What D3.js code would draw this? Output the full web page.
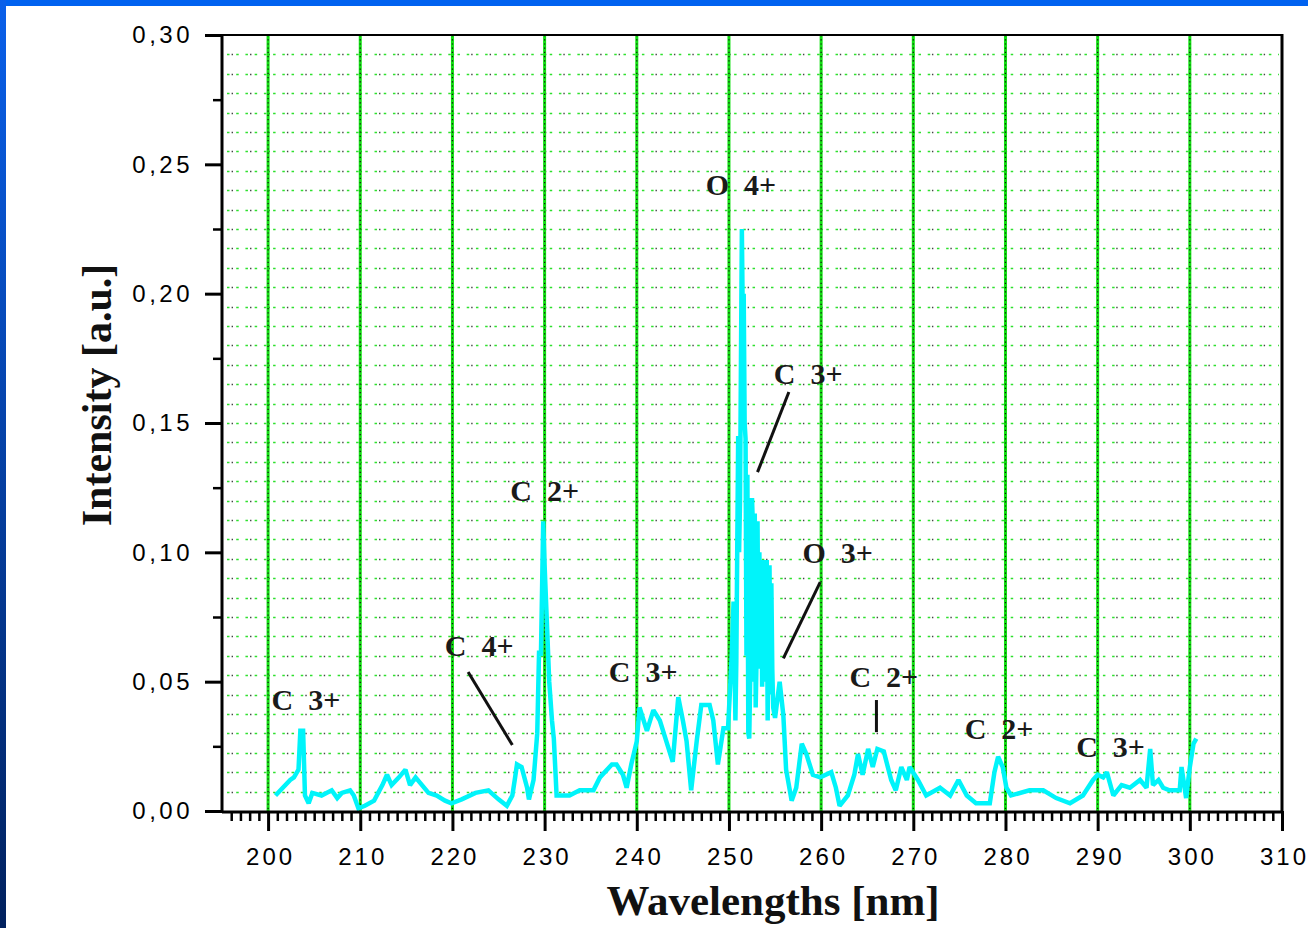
<!DOCTYPE html>
<html>
<head>
<meta charset="utf-8">
<script src="https://cdn.jsdelivr.net/npm/d3@7"></script>
<style>
  html, body { margin: 0; padding: 0; background: #ffffff; }
  svg { display: block; }
</style>
</head>
<body>
<svg id="chart" width="1308" height="928"></svg>
<script>
// ---- data ----
const wavelengths = [
  200.8, 202.4, 202.8, 203.3, 203.5, 203.8, 204.0, 204.4, 204.8, 205.8,
  206.9, 207.5, 208.0, 208.9, 209.3, 209.8, 210.5, 211.5, 212.4, 212.9,
  213.4, 214.2, 214.9, 215.4, 216.0, 216.7, 217.4, 218.3, 219.2, 219.9,
  221.0, 222.5, 223.9, 225.0, 225.9, 226.5, 226.8, 227.0, 227.5, 228.1,
  228.3, 228.8, 229.2, 229.4, 229.6, 229.85, 230.0, 230.2, 230.5, 230.8,
  231.0, 231.3, 232.7, 233.8, 235.3, 236.0, 237.3, 237.8, 238.5, 238.9,
  239.4, 240.0, 240.3, 241.1, 241.8, 242.5, 243.2, 243.9, 244.5, 245.0,
  245.4, 245.9, 246.5, 247.0, 247.9, 248.3, 248.8, 249.4, 249.9,
  250.3, 250.5, 250.7, 250.8, 251.0, 251.1, 251.2, 251.4, 251.5, 251.6,
  251.7, 251.8, 251.9, 252.0, 252.1, 252.2, 252.3, 252.4, 252.5, 252.6,
  252.7, 252.8, 252.9, 253.0, 253.1, 253.2, 253.3, 253.4, 253.5, 253.6,
  253.7, 253.8, 253.9, 254.0, 254.1, 254.2, 254.3, 254.4, 254.5, 254.6,
  254.7, 254.8, 255.0,
  255.5, 255.9, 256.2, 256.8, 257.3, 257.9, 258.4,
  259.1, 259.9, 261.1, 261.6, 262.0, 262.9, 263.6, 264.0, 264.5, 265.1,
  265.6, 266.1, 266.8, 267.6, 268.1, 268.7, 269.3, 269.6, 270.5, 271.4,
  272.9, 274.0, 274.9, 275.8, 276.8, 278.3, 278.8, 279.2, 279.7, 280.1,
  280.6, 282.6, 284.1, 285.5, 287.0, 288.4, 289.5, 290.0, 290.6, 291.0,
  291.7, 292.6, 293.5, 294.6, 295.3, 295.7, 296.0, 296.6, 297.1, 297.8,
  298.9, 299.1, 299.6, 300.0, 300.4, 300.7
];
const intensities = [
  0.006, 0.012, 0.013, 0.016, 0.031, 0.031, 0.006, 0.003, 0.007, 0.006,
  0.008, 0.005, 0.007, 0.008, 0.006, 0.001, 0.002, 0.004, 0.010, 0.014,
  0.010, 0.013, 0.016, 0.010, 0.013, 0.010, 0.007, 0.006, 0.004, 0.003,
  0.0045, 0.007, 0.008, 0.0045, 0.002, 0.006, 0.013, 0.018, 0.017, 0.009,
  0.0045, 0.012, 0.030, 0.062, 0.060, 0.112, 0.095, 0.077, 0.050, 0.035,
  0.028, 0.006, 0.006, 0.008, 0.008, 0.013, 0.018, 0.018, 0.014, 0.009,
  0.018, 0.027, 0.040, 0.031, 0.039, 0.035, 0.027, 0.019, 0.044, 0.035,
  0.027, 0.008, 0.027, 0.041, 0.041, 0.035, 0.018, 0.032, 0.032,
  0.060, 0.081, 0.035, 0.058, 0.145, 0.100, 0.120, 0.225, 0.190, 0.200,
  0.150, 0.144, 0.060, 0.130, 0.030, 0.028, 0.050, 0.070, 0.121, 0.110,
  0.050, 0.115, 0.040, 0.060, 0.112, 0.055, 0.100, 0.062, 0.096, 0.048,
  0.097, 0.050, 0.095, 0.060, 0.097, 0.035, 0.090, 0.095, 0.045, 0.088,
  0.055, 0.040, 0.036,
  0.050, 0.037, 0.016, 0.004, 0.009, 0.026, 0.022,
  0.014, 0.013, 0.015, 0.009, 0.002, 0.006, 0.014, 0.022, 0.014, 0.024,
  0.017, 0.024, 0.023, 0.012, 0.008, 0.017, 0.012, 0.017, 0.012, 0.006,
  0.009, 0.006, 0.012, 0.006, 0.003, 0.003, 0.015, 0.021, 0.017, 0.009,
  0.006, 0.008, 0.008, 0.005, 0.003, 0.006, 0.012, 0.014, 0.013, 0.015,
  0.006, 0.010, 0.009, 0.012, 0.009, 0.024, 0.010, 0.012, 0.009, 0.008,
  0.008, 0.017, 0.005, 0.017, 0.026, 0.028
];
const xTickValues = [200, 210, 220, 230, 240, 250, 260, 270, 280, 290, 300, 310];
const yTickValues = [0, 0.05, 0.10, 0.15, 0.20, 0.25, 0.30];
const yTickLabels = ["0,00", "0,05", "0,10", "0,15", "0,20", "0,25", "0,30"];
const labelTexts = ["C 3+", "C 4+", "C 2+", "C 3+", "O 4+", "C 3+", "O 3+", "C 2+", "C 2+", "C 3+"];
const labelWl    = [204.1, 222.9, 230.0, 240.7, 251.3, 258.6, 261.8, 266.8, 279.3, 291.4];
const labelInt   = [0.039, 0.060, 0.120, 0.050, 0.238, 0.165, 0.096, 0.048, 0.028, 0.021];
const pointerWl1  = [221.7, 256.5, 259.9, 266.0];
const pointerInt1 = [0.0537, 0.162, 0.0885, 0.0429];
const pointerWl2  = [226.5, 253.1, 255.9, 266.0];
const pointerInt2 = [0.0255, 0.131, 0.059, 0.0305];
const xTitle = "Wavelengths [nm]";
const yTitle = "Intensity [a.u.]";

(function () {
const svg = d3.select("#chart");
const W = 1308, H = 928;
const pLeft = 222, pRight = 1282, pTop = 35, pBottom = 811;

const x = d3.scaleLinear().domain([195, 310]).range([pLeft, pRight]);
const y = d3.scaleLinear().domain([0, 0.30]).range([pBottom, pTop]);

// page frame (blue border top & left)
const defs = svg.append("defs");
const grad = defs.append("linearGradient").attr("id", "leftGrad")
  .attr("x1", 0).attr("y1", 0).attr("x2", 0).attr("y2", 1);
grad.append("stop").attr("offset", "0%").attr("stop-color", "#0a60ea");
grad.append("stop").attr("offset", "100%").attr("stop-color", "#01215e");
svg.append("rect").attr("x", 0).attr("y", 0).attr("width", W).attr("height", H).attr("fill", "#ffffff");
svg.append("rect").attr("x", 0).attr("y", 0).attr("width", W).attr("height", 6).attr("fill", "#0062f0");
svg.append("rect").attr("x", 0).attr("y", 0).attr("width", 6).attr("height", H).attr("fill", "url(#leftGrad)");

// ---- dotted horizontal grid ----
const per = x(196) - x(195);
const gridRows = d3.range(0.0075, 0.30, 0.0075);
const gGrid = svg.append("g");
gGrid.selectAll("line.hg").data(gridRows).join("line").attr("class", "hg")
  .attr("x1", pLeft + 3).attr("x2", pRight - 3)
  .attr("y1", d => Math.round(y(d)) + 0.5).attr("y2", d => Math.round(y(d)) + 0.5)
  .attr("stroke", "#2ee02e").attr("stroke-width", 1.4)
  .attr("stroke-dasharray", `2.5,${(per - 2.5).toFixed(2)}`)
  .attr("stroke-dashoffset", -2);
gGrid.selectAll("line.hk").data(gridRows).join("line").attr("class", "hk")
  .attr("x1", pLeft + 3).attr("x2", pRight - 3)
  .attr("y1", d => Math.round(y(d)) + 0.5).attr("y2", d => Math.round(y(d)) + 0.5)
  .attr("stroke", "#444").attr("stroke-width", 1.4)
  .attr("stroke-dasharray", `1.4,${(2 * per - 1.4).toFixed(2)}`)
  .attr("stroke-dashoffset", -2 - per / 2);

// major vertical grid lines
const vMajor = xTickValues.filter(v => v > 195 && v < 310);
gGrid.selectAll("line.vg").data(vMajor).join("line").attr("class", "vg")
  .attr("x1", d => x(d)).attr("x2", d => x(d))
  .attr("y1", pTop).attr("y2", pBottom)
  .attr("stroke", "#11e011").attr("stroke-width", 3);
gGrid.selectAll("line.vk").data(vMajor).join("line").attr("class", "vk")
  .attr("x1", d => x(d)).attr("x2", d => x(d))
  .attr("y1", pTop).attr("y2", pBottom)
  .attr("stroke", "#111").attr("stroke-width", 1.2)
  .attr("stroke-dasharray", "1.2,3");

// ---- spectrum ----
const data = wavelengths.map((w, i) => ({ w, v: intensities[i] }));
const line = d3.line().x(d => x(d.w)).y(d => y(d.v));
svg.append("path").datum(data)
  .attr("d", line)
  .attr("fill", "none")
  .attr("stroke", "#00f4fa")
  .attr("stroke-width", 4.5)
  .attr("stroke-linejoin", "miter")
  .attr("stroke-miterlimit", 2);

// ---- axes ----
const fontTick = "'Liberation Sans', Arial, sans-serif";
const xAxis = d3.axisBottom(x).tickValues(xTickValues).tickSize(20).tickFormat(d3.format("d")).tickSizeOuter(0);
const gx = svg.append("g").attr("transform", `translate(0,${pBottom})`).call(xAxis);
gx.select(".domain").remove();
gx.selectAll(".tick line").attr("stroke", "#000").attr("stroke-width", 3);
gx.selectAll(".tick text").attr("y", 37).attr("dy", "0.71em")
  .attr("font-family", fontTick).attr("font-size", 24).attr("letter-spacing", "3px")
  .attr("fill", "#000").attr("dx", 2);

const xMinor = d3.range(196, 310, 1).filter(v => v % 10 !== 0);
const gxm = svg.append("g").attr("transform", `translate(0,${pBottom})`)
  .call(d3.axisBottom(x).tickValues(xMinor).tickSize(10).tickFormat(""));
gxm.select(".domain").remove();
gxm.selectAll(".tick line").attr("stroke", "#000").attr("stroke-width", 2.5);

const yAxis = d3.axisLeft(y).tickValues(yTickValues).tickSize(17)
  .tickFormat((d, i) => yTickLabels[i]).tickSizeOuter(0);
const gy = svg.append("g").attr("transform", `translate(${pLeft},0)`).call(yAxis);
gy.select(".domain").remove();
gy.selectAll(".tick line").attr("stroke", "#000").attr("stroke-width", 3);
gy.selectAll(".tick text").attr("x", -29)
  .attr("font-family", fontTick).attr("font-size", 24).attr("letter-spacing", "3.5px")
  .attr("fill", "#000");

const yMinor = d3.range(0.025, 0.30, 0.05);
const gym = svg.append("g").attr("transform", `translate(${pLeft},0)`)
  .call(d3.axisLeft(y).tickValues(yMinor).tickSize(9).tickFormat(""));
gym.select(".domain").remove();
gym.selectAll(".tick line").attr("stroke", "#000").attr("stroke-width", 2.5);

// frame
svg.append("line").attr("x1", pLeft).attr("x2", pRight).attr("y1", pTop).attr("y2", pTop)
  .attr("stroke", "#000").attr("stroke-width", 2);
svg.append("line").attr("x1", pRight).attr("x2", pRight).attr("y1", pTop - 1).attr("y2", pBottom + 1)
  .attr("stroke", "#000").attr("stroke-width", 3);
svg.append("line").attr("x1", pLeft).attr("x2", pLeft).attr("y1", pTop - 1).attr("y2", pBottom + 1)
  .attr("stroke", "#000").attr("stroke-width", 3);
svg.append("line").attr("x1", pLeft).attr("x2", pRight + 1).attr("y1", pBottom + 1).attr("y2", pBottom + 1)
  .attr("stroke", "#000").attr("stroke-width", 3);

// ---- annotations ----
const fontSerif = "'Liberation Serif', 'Times New Roman', serif";
const labels = labelTexts.map((t, i) => ({ t, w: labelWl[i], v: labelInt[i] }));
svg.append("g").selectAll("text").data(labels).join("text")
  .attr("x", d => x(d.w)).attr("y", d => y(d.v))
  .attr("text-anchor", "middle")
  .attr("font-family", fontSerif).attr("font-weight", "bold").attr("font-size", 30)
  .attr("fill", "#1a1a1a")
  .style("white-space", "pre")
  .text(d => d.t.replace(" ", "\u00a0\u00a0"));

const pointers = pointerWl1.map((w, i) => ({ w1: w, v1: pointerInt1[i], w2: pointerWl2[i], v2: pointerInt2[i] }));
svg.append("g").selectAll("line").data(pointers).join("line")
  .attr("x1", d => x(d.w1)).attr("y1", d => y(d.v1))
  .attr("x2", d => x(d.w2)).attr("y2", d => y(d.v2))
  .attr("stroke", "#111").attr("stroke-width", 3);

// ---- axis titles ----
svg.append("text")
  .attr("x", 773).attr("y", 915)
  .attr("text-anchor", "middle")
  .attr("font-family", fontSerif).attr("font-weight", "bold").attr("font-size", 43)
  .attr("fill", "#111")
  .text(xTitle);
svg.append("text")
  .attr("transform", `translate(111,395) rotate(-90)`)
  .attr("text-anchor", "middle")
  .attr("font-family", fontSerif).attr("font-weight", "bold").attr("font-size", 42)
  .attr("fill", "#111")
  .text(yTitle);
})();
</script>
</body>
</html>
